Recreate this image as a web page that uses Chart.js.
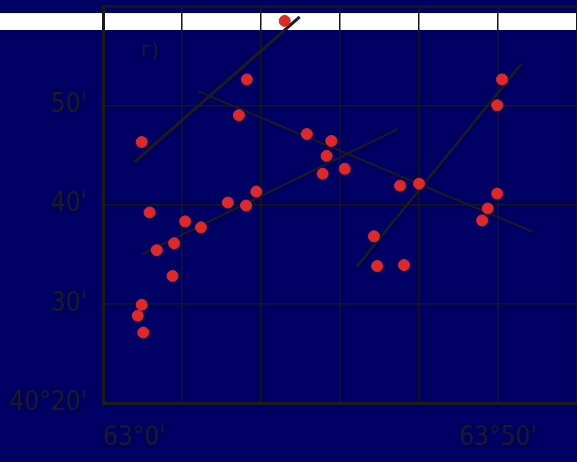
<!DOCTYPE html>
<html>
<head>
<meta charset="utf-8">
<script src="https://cdn.jsdelivr.net/npm/chart.js@4/dist/chart.umd.min.js"></script>
<style>
  html, body { margin: 0; padding: 0; background: #000064; }
  canvas { display: block; }
</style>
</head>
<body>
<canvas id="chart" width="577" height="462"></canvas>
<script>
// minutes east of 63°0' / minutes north of 40°0'
const pointsX = [23.0, 18.2, 17.2, 4.9, 25.8, 28.9, 28.3, 27.8, 30.6, 37.6, 40.0, 50.5, 49.9, 49.9, 48.7, 48.0,
                 34.3, 34.7, 38.1, 19.4, 15.8, 18.1, 5.9, 10.4, 12.4, 9.0, 6.8, 8.8, 4.9, 4.4, 5.1];
const pointsY = [58.5, 52.6, 49.0, 46.3, 47.1, 46.4, 44.9, 43.1, 43.6, 41.9, 42.1, 52.6, 50.0, 41.1, 39.6, 38.4,
                 36.8, 33.8, 33.9, 41.3, 40.2, 39.9, 39.2, 38.3, 37.7, 36.1, 35.4, 32.8, 29.9, 28.8, 27.1];

// trend lines: [x1, y1, x2, y2]
const trendLines = [
    [4.0, 44.3, 24.9, 58.9],
    [12.1, 51.4, 54.3, 37.3],
    [5.0, 35.0, 37.3, 47.6],
    [32.1, 33.7, 53.0, 54.2]
];
const trendWidths = [3, 2, 2, 2.5];

const xTickLabels = { 0: "63°0'", 50: "63°50'" };
const yTickLabels = { 20: "40°20'", 30: "30'", 40: "40'", 50: "50'" };
const panelLabel = 'г)';

const inkColor = '#1c1c1a';
const gridColor = '#161614';
const labelFont = { family: "'Liberation Sans Narrow', 'DejaVu Sans Condensed', sans-serif", size: 26, weight: '300' };

const backdrop = {
    id: 'backdrop',
    beforeDraw(chart) {
        const ctx = chart.ctx;
        ctx.save();
        ctx.fillStyle = '#000064';
        ctx.fillRect(0, 0, chart.width, chart.height);
        ctx.fillStyle = '#ffffff';
        ctx.fillRect(0, 13, chart.width, 17);
        ctx.restore();
    },
    afterDraw(chart) {
        const ctx = chart.ctx;
        ctx.save();
        ctx.fillStyle = inkColor;
        ctx.font = "300 22px 'Liberation Sans Narrow', 'DejaVu Sans Condensed', sans-serif";
        ctx.textAlign = 'center';
        ctx.textBaseline = 'middle';
        ctx.fillText(panelLabel, 150, 51);
        ctx.restore();
    }
};

const datasets = [{
    data: pointsX.map((x, i) => ({ x: x, y: pointsY[i] })),
    backgroundColor: '#e02828',
    borderColor: '#e02828',
    pointRadius: 5.5,
    showLine: false
}];
trendLines.forEach((l, i) => {
    datasets.push({
        data: [{ x: l[0], y: l[1] }, { x: l[2], y: l[3] }],
        showLine: true,
        borderColor: inkColor,
        borderWidth: trendWidths[i],
        pointRadius: 0
    });
});

new Chart(document.getElementById('chart'), {
    type: 'scatter',
    data: { datasets: datasets },
    options: {
        responsive: false,
        animation: false,
        layout: { autoPadding: false, padding: { top: 6, right: 0, left: 0, bottom: 0 } },
        plugins: { legend: { display: false }, tooltip: { enabled: false } },
        scales: {
            x: {
                type: 'linear',
                min: 0,
                max: 60,
                afterFit: s => {
                    s.height = 59;
                    s.paddingLeft = 0;
                    s.paddingRight = 0;
                },
                grid: { color: gridColor, lineWidth: 1.5, drawTicks: false },
                border: { color: inkColor, width: 3 },
                ticks: {
                    stepSize: 10,
                    autoSkip: false,
                    maxRotation: 0,
                    align: 'inner',
                    padding: 20,
                    color: inkColor,
                    font: labelFont,
                    callback: v => xTickLabels[v] || ''
                }
            },
            y: {
                min: 20,
                max: 60,
                afterFit: s => {
                    s.width = 103;
                    s.paddingTop = 0;
                    s.paddingBottom = 0;
                },
                grid: {
                    color: gridColor,
                    lineWidth: c => (c.tick && c.tick.value === 60 ? 3 : 1.5),
                    drawTicks: false
                },
                border: { color: inkColor, width: 3 },
                ticks: {
                    stepSize: 10,
                    padding: 16,
                    color: inkColor,
                    font: labelFont,
                    callback: v => yTickLabels[v] || ''
                }
            }
        }
    },
    plugins: [backdrop]
});
</script>
</body>
</html>
